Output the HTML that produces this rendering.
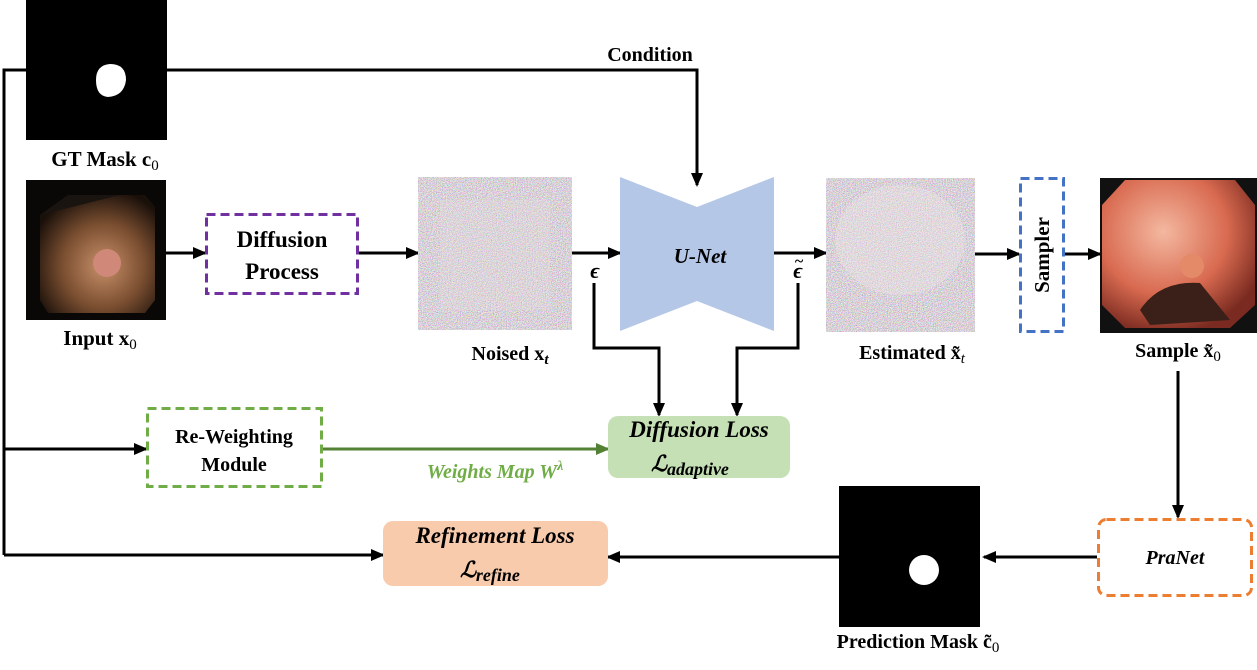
<!DOCTYPE html>
<html><head><meta charset="utf-8"><style>
body{margin:0;background:#fff}
svg{display:block}
text{font-family:"Liberation Serif",serif;font-weight:bold}
</style></head><body>
<svg width="1257" height="670" viewBox="0 0 1257 670" xmlns="http://www.w3.org/2000/svg">
<defs>
<marker id="a" markerWidth="14" markerHeight="12" refX="12" refY="6" orient="auto" markerUnits="userSpaceOnUse"><path d="M0,0 L14,6 L0,12 z" fill="#000"/></marker>
<marker id="g" markerWidth="14" markerHeight="12" refX="12" refY="6" orient="auto" markerUnits="userSpaceOnUse"><path d="M0,0 L14,6 L0,12 z" fill="#548235"/></marker>
<filter id="n" x="0" y="0" width="100%" height="100%"><feTurbulence type="fractalNoise" baseFrequency="1.2" numOctaves="1" seed="3"/><feColorMatrix type="matrix" values="1.6 0 0 0 -0.1  0 1.6 0 0 -0.15  0 0 1.6 0 -0.1  0 0 0 0 1"/></filter>
<radialGradient id="col1" cx="0.55" cy="0.6" r="0.65"><stop offset="0" stop-color="#c8906a"/><stop offset="0.55" stop-color="#7a4e30"/><stop offset="1" stop-color="#1a100a"/></radialGradient>
<radialGradient id="col2" cx="0.4" cy="0.35" r="0.7"><stop offset="0" stop-color="#f4b8a0"/><stop offset="0.6" stop-color="#d86a50"/><stop offset="1" stop-color="#7a2a20"/></radialGradient>
</defs>
<g stroke="#000" stroke-width="3" fill="none">
<polyline points="4,555 4,70 697,70 697,185" marker-end="url(#a)"/>
<line x1="4" y1="555" x2="383" y2="555" marker-end="url(#a)"/>
<line x1="4" y1="449" x2="146" y2="449" marker-end="url(#a)"/>
<line x1="166" y1="253" x2="205" y2="253" marker-end="url(#a)"/>
<line x1="358" y1="253" x2="418" y2="253" marker-end="url(#a)"/>
<line x1="572" y1="253" x2="620" y2="253" marker-end="url(#a)"/>
<line x1="774" y1="253" x2="826" y2="253" marker-end="url(#a)"/>
<line x1="975" y1="254" x2="1019" y2="254" marker-end="url(#a)"/>
<line x1="1064" y1="254" x2="1100" y2="254" marker-end="url(#a)"/>
<polyline points="594,283 594,348 659,348 659,415" marker-end="url(#a)"/>
<polyline points="798,283 798,348 737,348 737,415" marker-end="url(#a)"/>
<line x1="1178" y1="371" x2="1178" y2="517" marker-end="url(#a)"/>
<line x1="1097" y1="557" x2="984" y2="557" marker-end="url(#a)"/>
<line x1="839" y1="557" x2="608" y2="557" marker-end="url(#a)"/>
</g>
<line x1="322" y1="449" x2="608" y2="449" stroke="#548235" stroke-width="3" marker-end="url(#g)"/>
<rect x="26" y="0" width="141" height="140" fill="#000"/>
<path d="M96,80 Q96,65 110,64 Q126,64 126,80 Q124,96 108,97 Q96,96 96,80 z" fill="#fff"/>
<text x="105" y="166" font-size="21" text-anchor="middle">GT Mask c<tspan font-weight="normal" font-size="15" dy="4">0</tspan></text>
<rect x="26" y="180" width="140" height="140" fill="#0a0806"/>
<polygon points="68,195 145,195 155,207 155,300 145,313 48,313 40,300 40,215" fill="url(#col1)"/>
<path d="M40,215 Q80,205 120,195 L68,195 z" fill="#1a1410"/>
<circle cx="107" cy="263" r="14" fill="#d08878"/>
<text x="100" y="345" font-size="21" text-anchor="middle">Input x<tspan font-weight="normal" font-size="15" dy="4">0</tspan></text>
<rect x="206.5" y="214.5" width="151" height="79" fill="none" stroke="#7030a0" stroke-width="3" stroke-dasharray="9,5"/>
<text x="282" y="247" font-size="23" text-anchor="middle">Diffusion</text>
<text x="282" y="279" font-size="23" text-anchor="middle">Process</text>
<rect x="418" y="177" width="154" height="153" filter="url(#n)"/>
<rect x="440" y="200" width="110" height="110" fill="#e8e0e0" opacity="0.25"/>
<text x="510" y="360" font-size="20" text-anchor="middle">Noised  x<tspan font-style="italic" font-size="15" dy="4">t</tspan></text>
<text x="595" y="278" font-size="22" text-anchor="middle" font-style="italic">ϵ</text>
<polygon points="620,177 697,207 774,177 774,331 697,301 620,331" fill="#b4c7e7"/>
<text x="700" y="263" font-size="21" text-anchor="middle" font-style="italic">U-Net</text>
<text x="798" y="278" font-size="22" text-anchor="middle" font-style="italic">ϵ</text>
<text x="799" y="266" font-size="16" text-anchor="middle">~</text>
<rect x="826" y="178" width="149" height="154" filter="url(#n)"/>
<ellipse cx="900" cy="240" rx="65" ry="55" fill="#f0e8e8" opacity="0.35"/>
<text x="912" y="359" font-size="20" text-anchor="middle">Estimated  x̃<tspan font-style="italic" font-weight="normal" font-size="15" dy="4">t</tspan></text>
<rect x="1020.5" y="178.5" width="43" height="153" fill="none" stroke="#4472c4" stroke-width="3" stroke-dasharray="9,5"/>
<text x="1042" y="255" font-size="21" text-anchor="middle" transform="rotate(-90 1042 255)" dy="7">Sampler</text>
<rect x="1100" y="178" width="157" height="155" fill="#111"/>
<polygon points="1125,180 1235,180 1255,205 1255,305 1230,328 1125,328 1102,305 1102,205" fill="url(#col2)"/>
<path d="M1140,310 Q1160,280 1200,283 L1230,320 L1150,325 z" fill="#3a2018"/>
<circle cx="1192" cy="266" r="12" fill="#e48a68"/>
<text x="1178" y="357" font-size="20" text-anchor="middle">Sample  x̃<tspan font-weight="normal" font-size="15" dy="4">0</tspan></text>
<rect x="608" y="416" width="182" height="62" rx="10" fill="#c5e0b4"/>
<text x="699" y="437" font-size="23" text-anchor="middle" font-style="italic">Diffusion Loss</text>
<text x="690" y="471" font-size="22" text-anchor="middle" font-style="italic" font-weight="normal">ℒ<tspan font-size="18" dy="4">adaptive</tspan></text>
<rect x="147.5" y="408.5" width="174" height="78" fill="none" stroke="#70ad47" stroke-width="3" stroke-dasharray="9,5"/>
<text x="234" y="443" font-size="20" text-anchor="middle">Re-Weighting</text>
<text x="234" y="471" font-size="20" text-anchor="middle">Module</text>
<text x="495" y="478" font-size="20" text-anchor="middle" font-style="italic" fill="#70ad47">Weights Map W<tspan font-size="14" dy="-8">λ</tspan></text>
<rect x="1098.5" y="519.5" width="153" height="76" rx="8" fill="none" stroke="#ed7d31" stroke-width="3" stroke-dasharray="9,5"/>
<text x="1175" y="564" font-size="20" text-anchor="middle" font-style="italic">PraNet</text>
<rect x="839" y="486" width="141" height="141" fill="#000"/>
<circle cx="924" cy="570" r="15" fill="#fff"/>
<text x="918" y="648" font-size="20" text-anchor="middle">Prediction Mask c̃<tspan font-weight="normal" font-size="15" dy="4">0</tspan></text>
<rect x="383" y="521" width="225" height="65" rx="10" fill="#f8cbad"/>
<text x="495" y="543" font-size="23" text-anchor="middle" font-style="italic">Refinement Loss</text>
<text x="490" y="577" font-size="22" text-anchor="middle" font-style="italic" font-weight="normal">ℒ<tspan font-size="18" dy="4">refine</tspan></text>
<text x="650" y="61" font-size="20" text-anchor="middle">Condition</text>
</svg>
</body></html>
